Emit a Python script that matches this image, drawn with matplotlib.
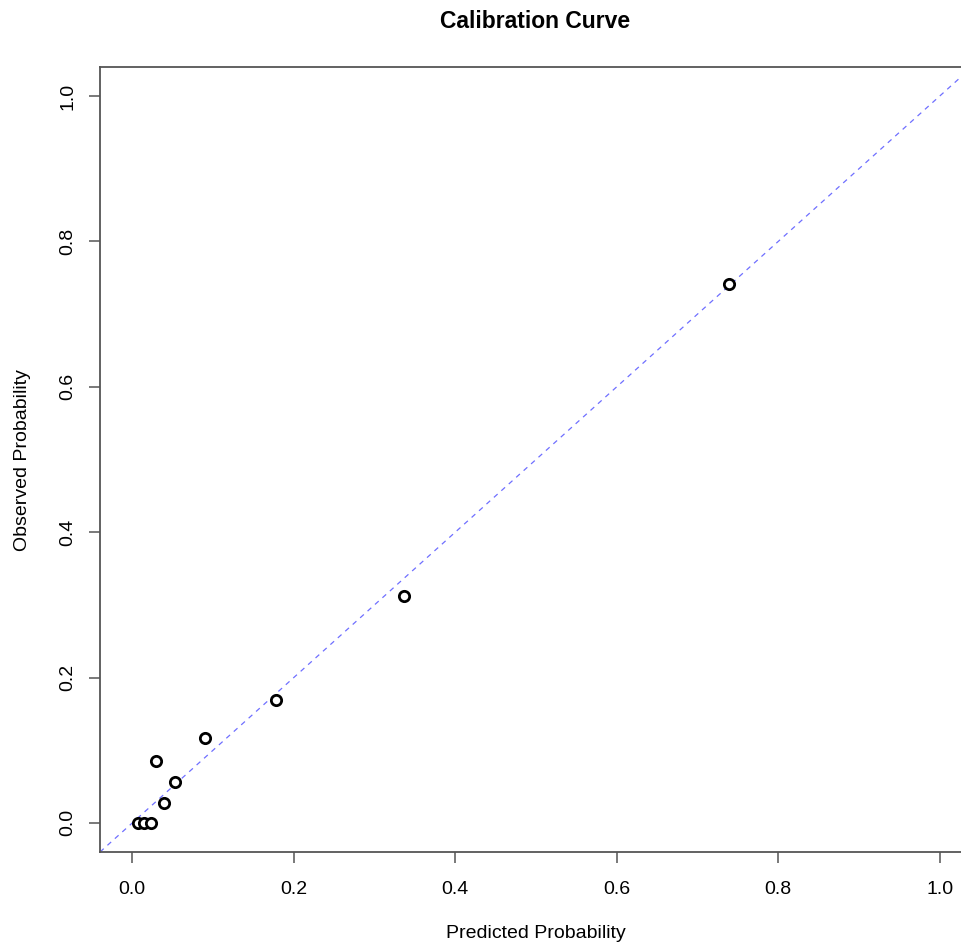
import matplotlib
matplotlib.use("Agg")
import matplotlib.pyplot as plt

# calibration points
predicted = [0.0074, 0.0149, 0.0235, 0.0397, 0.0297, 0.0533, 0.0905, 0.178, 0.337, 0.7385]
observed = [0.0, 0.0, 0.0, 0.0275, 0.0854, 0.0565, 0.117, 0.169, 0.3127, 0.742]
ticks = [0.0, 0.2, 0.4, 0.6, 0.8, 1.0]

plt.rcParams["font.family"] = ["Liberation Sans", "DejaVu Sans"]

W, H = 962, 942
fig = plt.figure(figsize=(W / 100, H / 100), dpi=100)
# axes box: left 100px, right ~972px (cut by figure edge), top 67px, bottom 852px
ax = fig.add_axes([100 / W, 1 - 852 / H, 872 / W, (852 - 67) / H])

ax.set_xlim(-0.04, 1.04)
ax.set_ylim(-0.04, 1.04)

ax.plot([-0.04, 1.04], [-0.04, 1.04], color="#6f6fff", lw=0.9,
        linestyle=(0, (4, 4)), zorder=1)
ax.scatter(predicted, observed, s=55, facecolors="white", edgecolors="black",
           linewidths=2.0, zorder=3)

ax.set_xticks(ticks)
ax.set_yticks(ticks)
ax.set_xticklabels([f"{t:.1f}" for t in ticks])
ax.set_yticklabels([f"{t:.1f}" for t in ticks], rotation=90, va="center")
ax.tick_params(direction="out", length=8, width=1.1, color="#555555",
               labelsize=14)
ax.tick_params(axis="x", pad=13)
ax.tick_params(axis="y", pad=9)
for s in ax.spines.values():
    s.set_color("#555555")
    s.set_linewidth(1.3)

fig.text(536 / W, 1 - 933 / H, "Predicted Probability", ha="center",
         va="center", fontsize=14)
fig.text(23 / W, 1 - 460 / H, "Observed Probability", ha="center",
         va="center", rotation=90, fontsize=14)
fig.text(535 / W, 1 - 22 / H, "Calibration Curve", ha="center", va="center",
         fontsize=16.5, fontweight="bold")

fig.savefig("out.png", dpi=100)
